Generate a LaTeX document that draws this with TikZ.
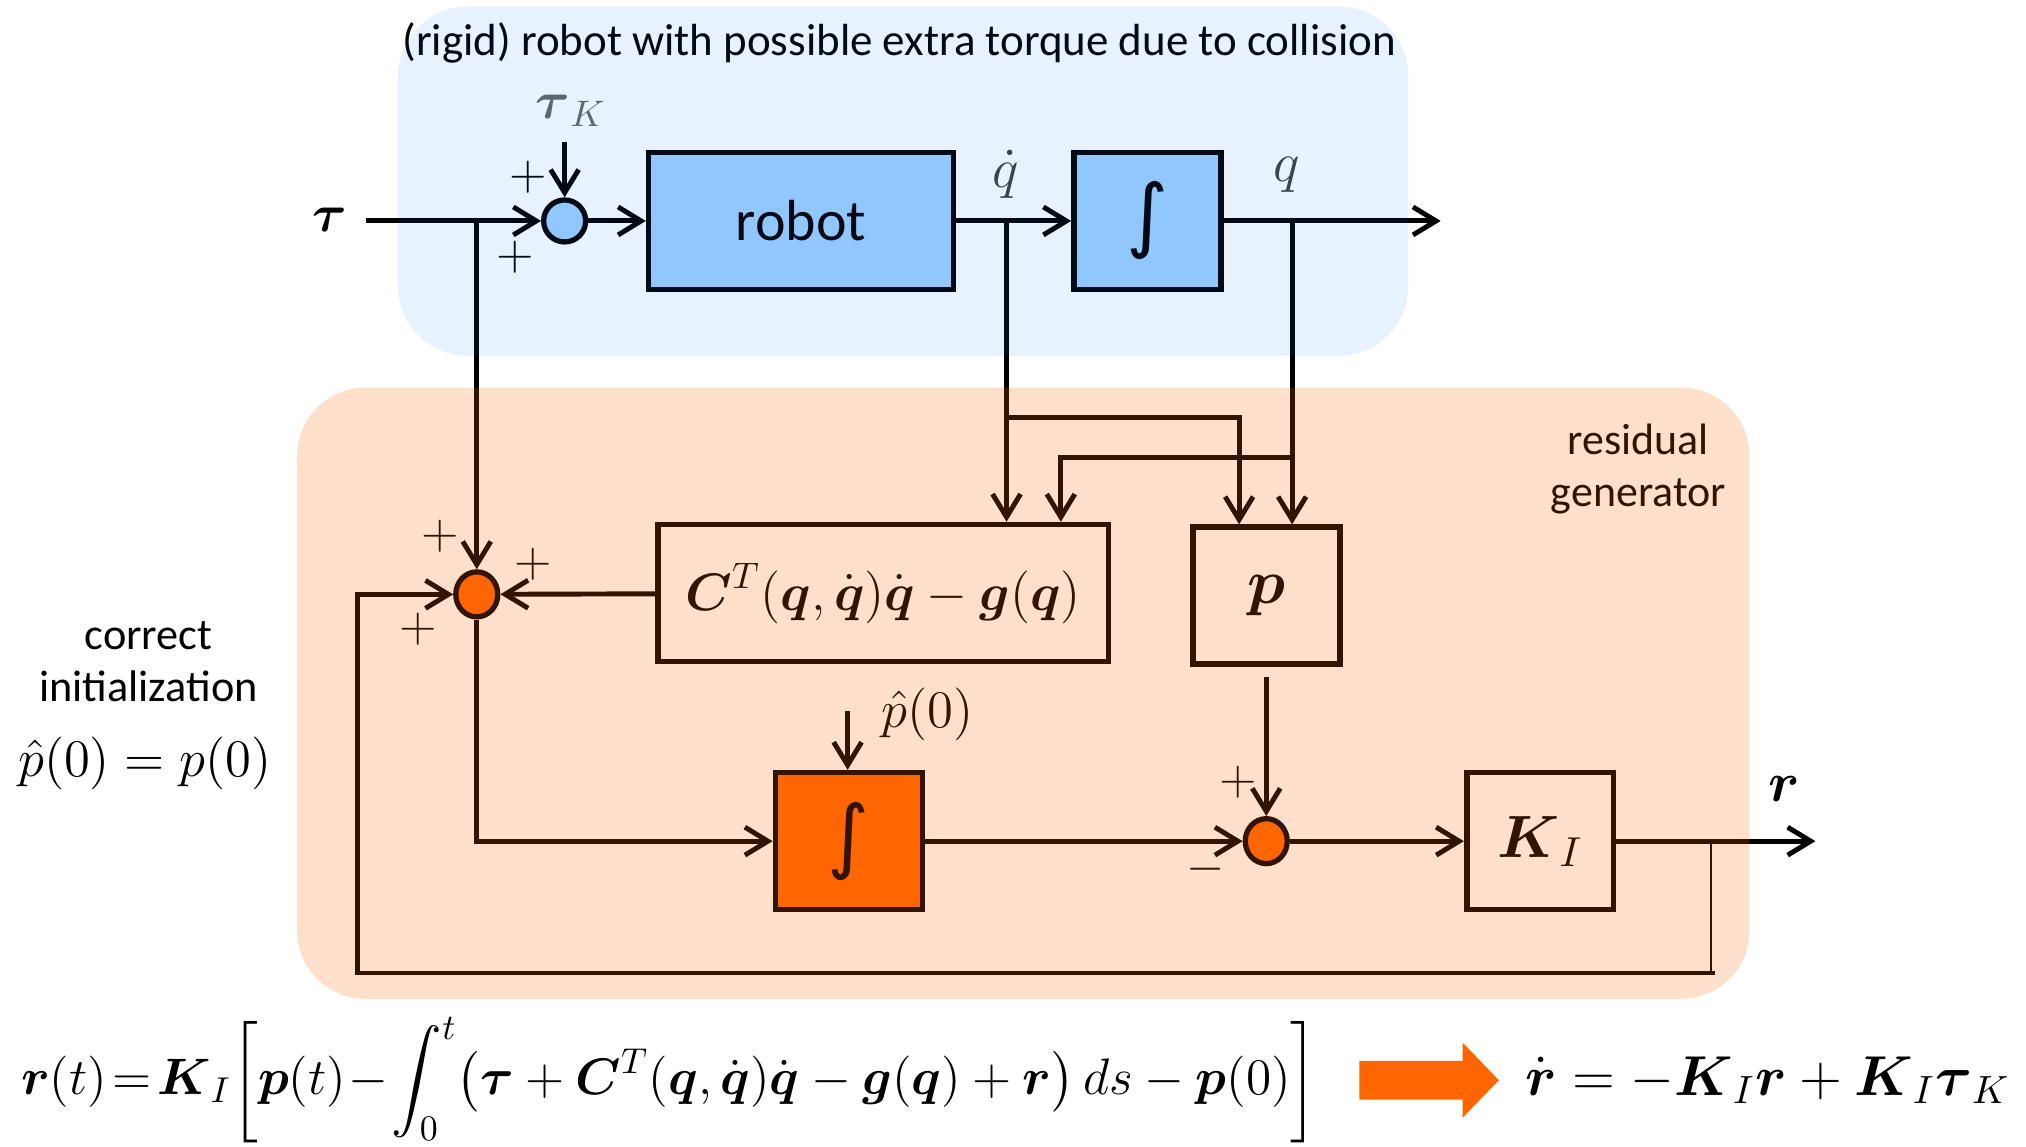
\RequirePackage{fix-cm}
\documentclass[tikz,border=0pt]{standalone}
\usepackage{amsmath}
\usepackage[no-math]{fontspec}
\setmainfont{Carlito}
\newfontfamily\intfont{DejaVu Sans}
\usetikzlibrary{shapes.geometric, arrows.meta, positioning, calc}
\definecolor{robotblue}{RGB}{160,208,255}
\definecolor{regionblue}{RGB}{0,112,240}
\definecolor{regionorange}{RGB}{255,102,0}
\definecolor{obsorange}{RGB}{255,102,0}
\newcommand{\bmv}[1]{\boldsymbol{#1}}
\newcommand{\fs}[1]{\fontsize{#1}{#1}\selectfont}

\begin{document}
\begin{tikzpicture}[
    x=0.01292cm, y=-0.01292cm,
    block/.style={rectangle, draw, line width=1.6pt, inner sep=0pt, minimum width=1.47cm, minimum height=1.37cm},
    sumnode/.style={ellipse, draw, line width=1.5pt, inner sep=0pt, minimum width=0.42cm, minimum height=0.45cm},
    arrow/.style={-{Straight Barb[length=2.3mm,width=2.8mm]}, line width=1.4pt},
    link/.style={line width=1.4pt},
    sign/.style={font=\fs{14}}
]
    \useasboundingbox (0,0) rectangle (1568,887);

    % Robot
    \node[font=\fs{15}] (tau) at (255,170) {$\bmv{\tau}$};
    \coordinate (tauin) at (283,171);
    \node[sumnode, fill=robotblue, minimum height=0.42cm] (sumK) at (437,171) {};
    \node[font=\fs{15}, text=black!60] (tauK) at (442,86) {$\bmv{\tau}_K$};
    \coordinate (tauKin) at (437,110);
    \node[block, fill=robotblue, minimum width=3.05cm, font=\fs{16.5}] (robot) at (620,171) {robot};
    \node[block, fill=robotblue, font=\fs{23}\intfont] (intq) at (888,171) {∫};
    \coordinate (qout) at (1115,171);
    \node[font=\fs{16}, text=black!75] (qdotlabel) at (778,135) {$\dot q$};
    \node[font=\fs{16}, text=black!75] (qlabel) at (996,135) {$q$};
    \node[sign] at (409,137) {$+$};
    \node[sign] at (399,199) {$+$};

    \draw[arrow] (tauin) -- (sumK);
    \draw[arrow] (tauKin) -- (sumK);
    \draw[arrow] (sumK) -- (robot);
    \draw[arrow] (robot) -- (intq);
    \draw[arrow] (intq) -- (qout);

    % Residual generator
    \node[sumnode, fill=obsorange] (sumA) at (369,460) {};
    \node[block, minimum width=4.51cm, font=\fs{15}] (Cg) at (683.5,459)
        {$\bmv{C}^T(\bmv{q},\dot{\bmv{q}})\dot{\bmv{q}}-\bmv{g}(\bmv{q})$};
    \node[block, font=\fs{18}] (pbox) at (980,461) {$\bmv{p}$};
    \node[block, fill=obsorange, font=\fs{23}\intfont] (intp) at (657,651) {∫};
    \node[sumnode, fill=obsorange] (sumB) at (980,651) {};
    \node[block, font=\fs{17}] (KI) at (1192,651) {$\bmv{K}_I$};
    \coordinate (rout) at (1405,651);
    \coordinate (rtap) at (1324,651);
    \coordinate (fbcorner) at (1327,753);
    \coordinate (fbleft) at (277,753);
    \coordinate (pinit) at (656,550);
    \coordinate (qdtap) at (779,171);
    \coordinate (qtap) at (1000,171);
    \coordinate (qdsplit) at (779,323);
    \coordinate (qsplit) at (1000,354);

    \node[font=\fs{15}] (pinitlabel) at (718,553) {$\hat p(0)$};
    \node[font=\fs{16}] (rlabel) at (1381,611) {$\bmv{r}$};
    \node[sign] at (341,415) {$+$};
    \node[sign] at (413,437) {$+$};
    \node[sign] at (324,487) {$+$};
    \node[sign] at (958,605) {$+$};
    \node[sign] at (933,673) {$-$};

    \draw[arrow] (tauin -| sumA) -- (sumA);
    \draw[arrow] (qdtap) -- (qdtap |- Cg.north);
    \draw[arrow] (qdsplit) -| ($(pbox.north)+(-21,0)$);
    \draw[arrow] (qtap) -- (qtap |- pbox.north);
    \draw[arrow] (qsplit) -| ($(Cg.north)+(137.5,0)$);
    \draw[arrow] (Cg) -- (sumA);
    \draw[arrow] (sumA) |- (intp);
    \draw[arrow] (pinit) -- (pinit |- intp.north);
    \draw[arrow] (intp) -- (sumB);
    \draw[arrow, shorten <=1mm] (pbox) -- (sumB);
    \draw[arrow] (sumB) -- (KI);
    \draw[arrow] (KI) -- (rout);
    \draw[line width=0.6pt] (rtap) -- (rtap |- fbcorner);
    \draw[arrow] (fbcorner) -- (fbleft) |- (sumA);

    % Texts
    \node[font=\fs{12.8}] (title) at (696,33) {(rigid) robot with possible extra torque due to collision};
    \node[font=\fontsize{12.5}{15}\selectfont, align=center] (resgen) at (1268,363) {residual\\generator};
    \node[font=\fontsize{12.6}{15}\selectfont, align=center] (initnote) at (115,512) {correct\\initialization};
    \node[font=\fs{15}] (initeq) at (112,591) {$\hat p(0) = p(0)$};

    % Equations
    \node[font=\fs{14.6}] (residual) at (518,836)
        {$\displaystyle \bmv{r}(t)\!=\!\bmv{K}_I\!\left[\bmv{p}(t)\!-\!\int_0^t\!\left(\bmv{\tau}+\bmv{C}^T(\bmv{q},\dot{\bmv{q}})\dot{\bmv{q}}-\bmv{g}(\bmv{q})+\bmv{r}\right)ds-\bmv{p}(0)\right]$};
    \fill[obsorange] (1052,821) -- (1132,821) -- (1132,807) -- (1160,836) -- (1132,865) -- (1132,851) -- (1052,851) -- cycle;
    \node[font=\fs{16}] (rdot) at (1368,836) {$\dot{\bmv{r}} = -\bmv{K}_I\bmv{r}+\bmv{K}_I\bmv{\tau}_K$};

    % Regions
    \fill[regionblue, fill opacity=0.09, rounded corners=0.7cm] (308,5) rectangle (1090,275.5);
    \fill[regionorange, fill opacity=0.2, rounded corners=0.68cm] (230,300) rectangle (1354,773);
\end{tikzpicture}
\end{document}
